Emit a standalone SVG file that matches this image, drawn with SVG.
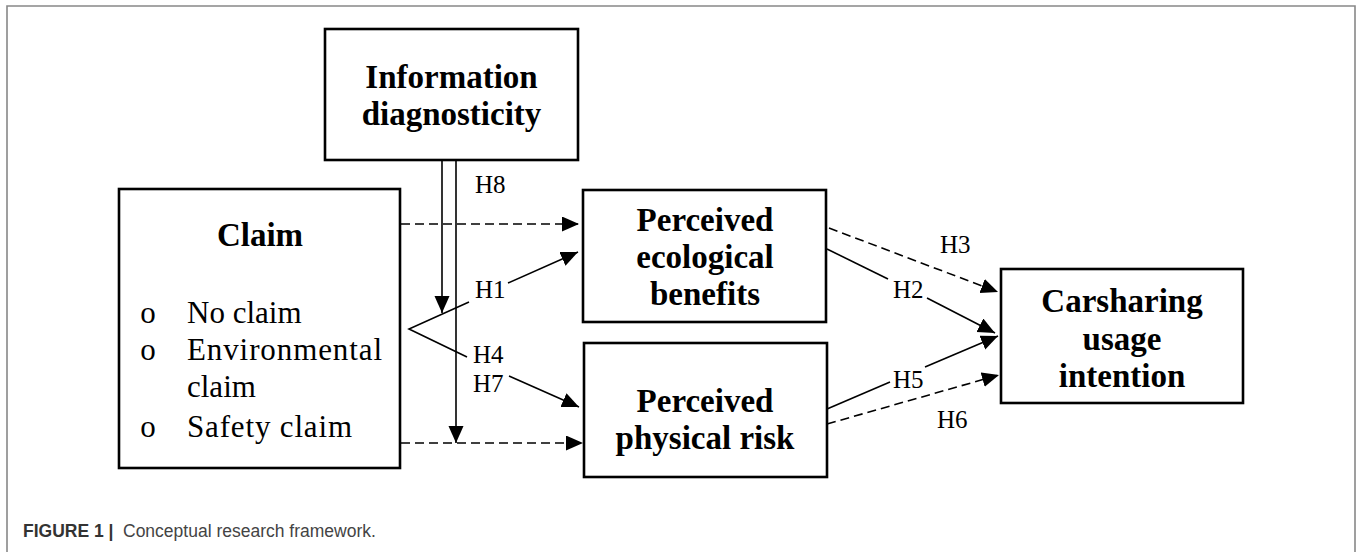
<svg xmlns="http://www.w3.org/2000/svg" width="1362" height="552" viewBox="0 0 1362 552">
<style>
.box{fill:#fff;stroke:#000;stroke-width:2.6}
.title{font-family:"Liberation Serif","Times New Roman",serif;font-weight:bold;font-size:33px;fill:#000;text-anchor:middle}
.item{font-family:"Liberation Serif","Times New Roman",serif;font-size:31px;fill:#000}
.lab{font-family:"Liberation Serif","Times New Roman",serif;font-size:25px;fill:#000}
.ln{fill:none;stroke:#000;stroke-width:1.6}
.dash{stroke-dasharray:9 5}
.frame{fill:none;stroke:#888;stroke-width:1.6}
.cap{font-family:"Liberation Sans",Arial,sans-serif;font-size:17.5px}
</style>
<defs>
<marker id="ah" markerUnits="userSpaceOnUse" markerWidth="18" markerHeight="16" refX="17" refY="7.5" orient="auto">
<path d="M0,0 L17,7.5 L0,15 z" fill="#000"/>
</marker>
</defs>
<rect width="1362" height="552" fill="#fff"/>
<path class="frame" d="M7,552 V6 H1355 V552"/>

<g id="connectors">
<line class="ln" x1="442" y1="161" x2="442" y2="313" marker-end="url(#ah)"/>
<line class="ln" x1="456" y1="161" x2="456" y2="443" marker-end="url(#ah)"/>
<line class="ln dash" x1="401" y1="224" x2="579" y2="224" marker-end="url(#ah)"/>
<line class="ln dash" x1="401" y1="443" x2="583" y2="443" marker-end="url(#ah)"/>
<polyline class="ln" points="469,302 409,329 467,357"/>
<line class="ln" x1="508" y1="283" x2="578" y2="252" marker-end="url(#ah)"/>
<line class="ln" x1="509" y1="376" x2="579" y2="407" marker-end="url(#ah)"/>
<line class="ln dash" x1="829" y1="228" x2="998" y2="292" marker-end="url(#ah)"/>
<line class="ln" x1="827" y1="249" x2="888" y2="279"/>
<line class="ln" x1="927" y1="298" x2="995" y2="333" marker-end="url(#ah)"/>
<line class="ln" x1="827" y1="409" x2="890" y2="382"/>
<line class="ln" x1="925" y1="367" x2="998" y2="336" marker-end="url(#ah)"/>
<line class="ln dash" x1="827" y1="424" x2="999" y2="375" marker-end="url(#ah)"/>
<text class="lab" x="475" y="193">H8</text>
<text class="lab" x="475" y="298">H1</text>
<text class="lab" x="473" y="363">H4</text>
<text class="lab" x="473" y="392">H7</text>
<text class="lab" x="940" y="253">H3</text>
<text class="lab" x="893" y="298">H2</text>
<text class="lab" x="893" y="388">H5</text>
<text class="lab" x="937" y="428">H6</text>
</g>

<g id="info">
<rect class="box" x="325" y="29" width="253" height="131"/>
<text class="title" x="451.5" y="88">Information</text>
<text class="title" x="451.5" y="125">diagnosticity</text>
</g>

<g id="claim">
<rect class="box" x="119" y="189" width="281" height="279"/>
<text class="title" x="260" y="246">Claim</text>
<text class="item" x="148" y="323" text-anchor="middle">o</text>
<text class="item" x="148" y="360" text-anchor="middle">o</text>
<text class="item" x="148" y="437" text-anchor="middle">o</text>
<text class="item" x="187" y="323">No claim</text>
<text class="item" x="187" y="360" textLength="195" lengthAdjust="spacing">Environmental</text>
<text class="item" x="187" y="397">claim</text>
<text class="item" x="187" y="437" textLength="165" lengthAdjust="spacing">Safety claim</text>
</g>

<g id="eco">
<rect class="box" x="583" y="190" width="243" height="132"/>
<text class="title" x="705" y="231">Perceived</text>
<text class="title" x="705" y="268">ecological</text>
<text class="title" x="705" y="305">benefits</text>
</g>

<g id="risk">
<rect class="box" x="584" y="343" width="243" height="134"/>
<text class="title" x="705" y="412">Perceived</text>
<text class="title" x="705" y="449">physical risk</text>
</g>

<g id="usage">
<rect class="box" x="1001" y="269" width="242" height="134"/>
<text class="title" x="1122" y="312">Carsharing</text>
<text class="title" x="1122" y="350">usage</text>
<text class="title" x="1122" y="387">intention</text>
</g>

<g id="caption">
<text class="cap" x="23" y="537" font-weight="bold" fill="#333">FIGURE 1 |</text>
<text class="cap" x="123" y="537" fill="#444">Conceptual research framework.</text>
</g>
</svg>
